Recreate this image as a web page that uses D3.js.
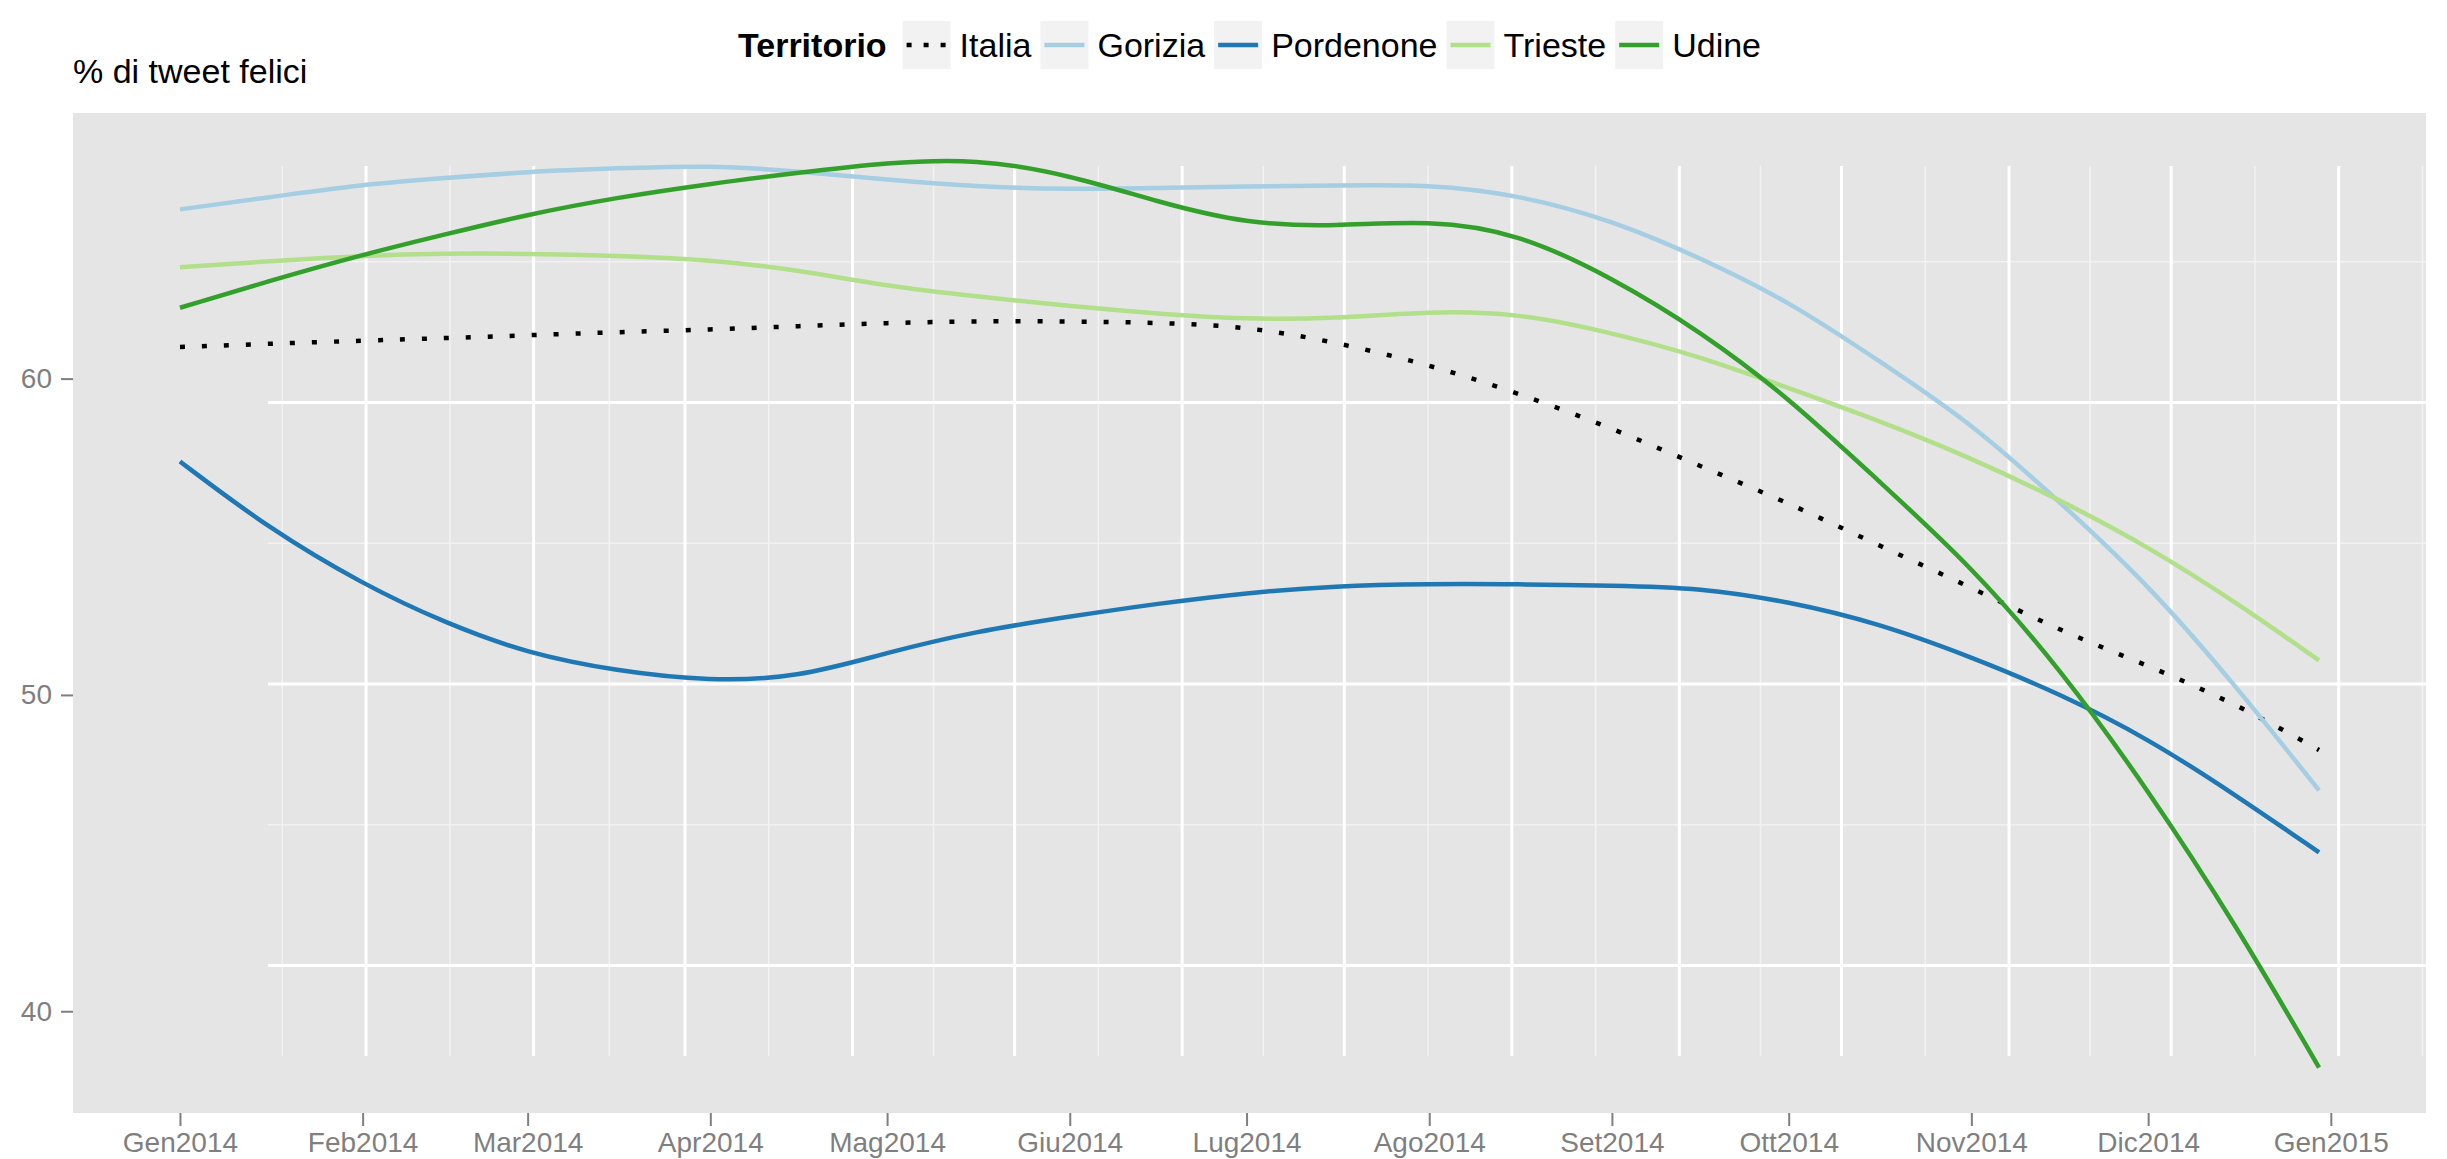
<!DOCTYPE html>
<html>
<head>
<meta charset="utf-8">
<script src="https://cdn.jsdelivr.net/npm/d3@7"></script>
<style>
  body { margin: 0; background: #fff; }
  svg { display: block; font-family: "Liberation Sans", Arial, Helvetica, sans-serif; }
</style>
</head>
<body>
<div id="chart"></div>
<script>
// sampled dates (smoothed curves read at roughly half-month steps)
const dates = ["2014-01-01","2014-01-16","2014-02-01","2014-02-15","2014-03-01","2014-03-16",
  "2014-04-01","2014-04-16","2014-05-01","2014-05-16","2014-06-01","2014-06-16","2014-07-01",
  "2014-07-16","2014-08-01","2014-08-16","2014-09-01","2014-09-16","2014-10-01","2014-10-16",
  "2014-11-01","2014-11-16","2014-12-01","2014-12-16","2014-12-30"];

const italia    = [61.0, 61.1, 61.2, 61.28, 61.37, 61.47, 61.55, 61.66, 61.76, 61.82, 61.81, 61.77, 61.65,
                   61.16, 60.44, 59.55, 58.44, 57.23, 56.07, 54.75, 53.4, 52.03, 50.93, 49.71, 48.26];
const gorizia   = [65.35, 65.73, 66.14, 66.34, 66.54, 66.65, 66.74, 66.56, 66.28, 66.07, 65.98, 66.03, 66.07,
                   66.11, 66.14, 65.82, 65.01, 63.82, 62.45, 60.6, 58.6, 56.1, 53.5, 50.26, 46.98];
const pordenone = [57.38, 55.27, 53.5, 52.27, 51.31, 50.76, 50.43, 50.55, 51.34, 52.01, 52.48, 52.89, 53.23,
                   53.45, 53.51, 53.5, 53.46, 53.39, 52.95, 52.28, 51.2, 50.04, 48.62, 46.82, 45.02];
const trieste   = [63.52, 63.71, 63.89, 63.96, 63.95, 63.89, 63.76, 63.43, 62.92, 62.6, 62.29, 62.05, 61.87,
                   61.9, 62.13, 62.08, 61.45, 60.7, 59.7, 58.7, 57.49, 56.17, 54.69, 52.92, 51.09];
const udine     = [62.24, 63.08, 63.92, 64.56, 65.19, 65.72, 66.16, 66.51, 66.83, 66.96, 66.44, 65.58, 64.89,
                   64.81, 65.01, 64.61, 63.2, 61.5, 59.4, 56.81, 54.07, 50.85, 47.0, 42.7, 38.22];

const territori = ["Italia", "Gorizia", "Pordenone", "Trieste", "Udine"];
const colori    = ["#000000", "#a6cee3", "#1f78b4", "#b2df8a", "#33a02c"];
const xLabels   = ["Gen2014","Feb2014","Mar2014","Apr2014","Mag2014","Giu2014","Lug2014",
                   "Ago2014","Set2014","Ott2014","Nov2014","Dic2014","Gen2015"];
const yTicks    = [40, 50, 60];
const yMinor    = [45, 55, 65];

const W = 2447, H = 1159;
const panel = {left: 73, right: 2426, top: 113, bottom: 1113};

const parse = d3.timeParse("%Y-%m-%d");
const dd = dates.map(parse);
const valori = [italia, gorizia, pordenone, trieste, udine];
const series = territori.map((n, i) => ({
  name: n, color: colori[i],
  points: dd.map((d, j) => ({date: d, v: valori[i][j]}))
}));

// ggplot-like 5% expansion
const t0 = +dd[0], t1 = +dd[dd.length - 1];
const tpad = (t1 - t0) * 0.05;
const allV = valori.flat();
const vmin = d3.min(allV), vmax = d3.max(allV), vpad = (vmax - vmin) * 0.05;

const x = d3.scaleTime().domain([new Date(t0 - tpad), new Date(t1 + tpad)]).range([panel.left, panel.right]);
const y = d3.scaleLinear().domain([vmin - vpad, vmax + vpad]).range([panel.bottom, panel.top]);

// the grid in the reference is drawn in a shifted/shrunk viewport
const gx = x.copy().range([268, 2426]);
const gy = y.copy().range([1056, 166]);

const svg = d3.select("#chart").append("svg").attr("width", W).attr("height", H);

// panel background
svg.append("rect")
  .attr("x", panel.left).attr("y", panel.top)
  .attr("width", panel.right - panel.left).attr("height", panel.bottom - panel.top)
  .attr("fill", "#e5e5e5");

const clip = svg.append("defs").append("clipPath").attr("id", "pclip");
clip.append("rect")
  .attr("x", panel.left).attr("y", panel.top)
  .attr("width", panel.right - panel.left).attr("height", panel.bottom - panel.top);

const grid = svg.append("g").attr("clip-path", "url(#pclip)");

const monthTicks = d3.timeMonth.range(new Date(2014, 0, 1), new Date(2015, 0, 2));
// minor breaks: midpoints between month breaks, one extra on each side
const ext = [new Date(2013, 11, 1)].concat(monthTicks, [new Date(2015, 1, 1)]);
const minorX = d3.pairs(ext).map(p => new Date((+p[0] + +p[1]) / 2));

const [gyBottom, gyTop] = gy.range();
const [gxLeft, gxRight] = gx.range();

grid.selectAll(".vminor").data(minorX).join("line")
  .attr("x1", d => gx(d)).attr("x2", d => gx(d))
  .attr("y1", gyTop).attr("y2", gyBottom)
  .attr("stroke", "#f2f2f2").attr("stroke-width", 1.5);
grid.selectAll(".hminor").data(yMinor).join("line")
  .attr("x1", gxLeft).attr("x2", gxRight + 40)
  .attr("y1", d => gy(d)).attr("y2", d => gy(d))
  .attr("stroke", "#f2f2f2").attr("stroke-width", 1.5);
grid.selectAll(".vmajor").data(monthTicks).join("line")
  .attr("x1", d => gx(d)).attr("x2", d => gx(d))
  .attr("y1", gyTop).attr("y2", gyBottom)
  .attr("stroke", "#ffffff").attr("stroke-width", 3);
grid.selectAll(".hmajor").data(yTicks).join("line")
  .attr("x1", gxLeft).attr("x2", gxRight + 40)
  .attr("y1", d => gy(d)).attr("y2", d => gy(d))
  .attr("stroke", "#ffffff").attr("stroke-width", 3);

// lines
const line = d3.line()
  .x(d => x(d.date))
  .y(d => y(d.v))
  .curve(d3.curveBasis);

svg.append("g").attr("clip-path", "url(#pclip)")
  .selectAll("path").data(series).join("path")
  .attr("d", d => line(d.points))
  .attr("fill", "none")
  .attr("stroke", d => d.color)
  .attr("stroke-width", 4.5)
  .attr("stroke-dasharray", d => d.name === "Italia" ? "5,17" : null);

// axes
const xAxis = svg.append("g")
  .attr("transform", `translate(0,${panel.bottom})`)
  .call(d3.axisBottom(x).tickValues(monthTicks).tickFormat((d, i) => xLabels[i])
    .tickSizeOuter(0).tickSize(13).tickPadding(6));
const yAxis = svg.append("g")
  .attr("transform", `translate(${panel.left},0)`)
  .call(d3.axisLeft(y).tickValues(yTicks).tickSizeOuter(0).tickSize(12).tickPadding(9));

[xAxis, yAxis].forEach(a => {
  a.select(".domain").remove();
  a.selectAll(".tick line").attr("stroke", "#7f7f7f").attr("stroke-width", 2);
  a.selectAll(".tick text").attr("fill", "#7f7f7f")
    .style("font-size", "28px").style("font-family", "'Liberation Sans', Arial, sans-serif");
});

// y title
svg.append("text")
  .attr("x", panel.left).attr("y", 83)
  .style("font-size", "34px")
  .text("% di tweet felici");

// legend
const leg = svg.append("g");
let lx = 0;
const title = leg.append("text")
  .attr("x", lx).attr("y", 57)
  .style("font-size", "34px").style("font-weight", "bold")
  .text("Territorio");
lx += title.node().getComputedTextLength() + 16;

series.forEach(s => {
  leg.append("rect")
    .attr("x", lx).attr("y", 21).attr("width", 48).attr("height", 48)
    .attr("fill", "#f2f2f2");
  leg.append("line")
    .attr("x1", lx + 4).attr("x2", lx + 44)
    .attr("y1", 45).attr("y2", 45)
    .attr("stroke", s.color).attr("stroke-width", 4.5)
    .attr("stroke-dasharray", s.name === "Italia" ? "5,12" : null);
  lx += 48 + 9;
  const t = leg.append("text")
    .attr("x", lx).attr("y", 57)
    .style("font-size", "34px")
    .text(s.name);
  lx += t.node().getComputedTextLength() + 9;
});
const legW = lx - 9;
leg.attr("transform", `translate(${(panel.left + panel.right) / 2 - legW / 2},0)`);
</script>
</body>
</html>
